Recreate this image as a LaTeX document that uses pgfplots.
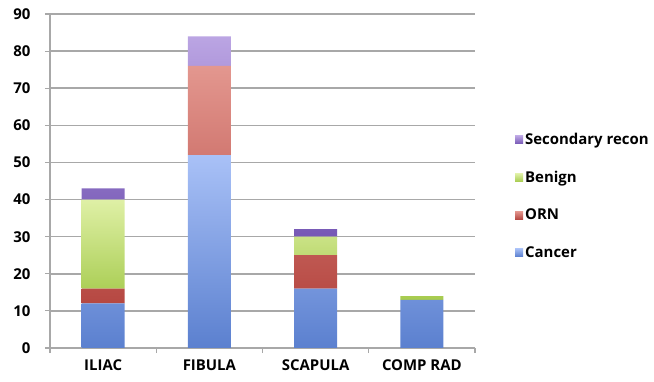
\documentclass[border=0pt]{standalone}
\usepackage{fontspec}
\setmainfont{Open Sans}
\usepackage{pgfplots}
\usepackage{pgfplotstable}
\pgfplotsset{compat=1.18}
\definecolor{gridgray}{HTML}{A8A8A8}
\definecolor{cantop}{HTML}{A9C1F7}
\definecolor{canbot}{HTML}{5B80CF}
\definecolor{orntop}{HTML}{E3978F}
\definecolor{ornbot}{HTML}{B64842}
\definecolor{bentop}{HTML}{DFF0A6}
\definecolor{benbot}{HTML}{A6CB4E}
\definecolor{sectop}{HTML}{BBA5E3}
\definecolor{secbot}{HTML}{7658B5}
\pgfplotstableread{
x cancer orn benign sec
0 12 4 24 3
1 52 24 0 8
2 16 9 5 2
3 13 0 1 0
}\data
\begin{document}
\begin{tikzpicture}
\begin{axis}[name=ax, scale only axis, width=425bp, height=334bp,
  ybar stacked, bar width=43bp,
  xmin=-0.5, xmax=3.5, ymin=0, ymax=90,
  xtick={0,1,2,3}, xticklabels={ILIAC,FIBULA,SCAPULA,COMP RAD},
  minor xtick={-0.5,0.5,1.5,2.5,3.5},
  major x tick style={draw=none},
  ytick={0,10,...,90},
  ymajorgrids, grid style={line width=1.6bp, gridgray},
  axis lines*=left,
  axis line style={line width=1.4bp, gridgray},
  tick align=outside, major tick length=5bp, minor tick length=5bp,
  tick style={gridgray, line width=1.2bp},
  ticklabel style={font=\bfseries\fontsize{15}{17}\selectfont},
  yticklabel style={xshift=-11bp},
  xticklabel style={yshift=-3bp},
  /pgf/number format/assume math mode=true,
  legend style={at={(1.087,0.455)}, anchor=west, draw=none, fill=none,
    font=\bfseries\fontsize{15}{17}\selectfont, row sep=21bp},
  legend cell align=left, reverse legend,
  legend image code/.code={\fill[#1] (0bp,-4bp) rectangle (8bp,4bp);},
]
\addplot[draw=none, top color=cantop, bottom color=canbot] table[x=x,y=cancer]{\data};
\addplot[draw=none, top color=orntop, bottom color=ornbot] table[x=x,y=orn]{\data};
\addplot[draw=none, top color=bentop, bottom color=benbot] table[x=x,y=benign]{\data};
\addplot[draw=none, top color=sectop, bottom color=secbot] table[x=x,y=sec]{\data};
\legend{Cancer,ORN,Benign,Secondary recon}
\end{axis}
\path (ax.south west) ++(-50bp,-34bp) rectangle ++(654bp,382bp);
\end{tikzpicture}
\end{document}
